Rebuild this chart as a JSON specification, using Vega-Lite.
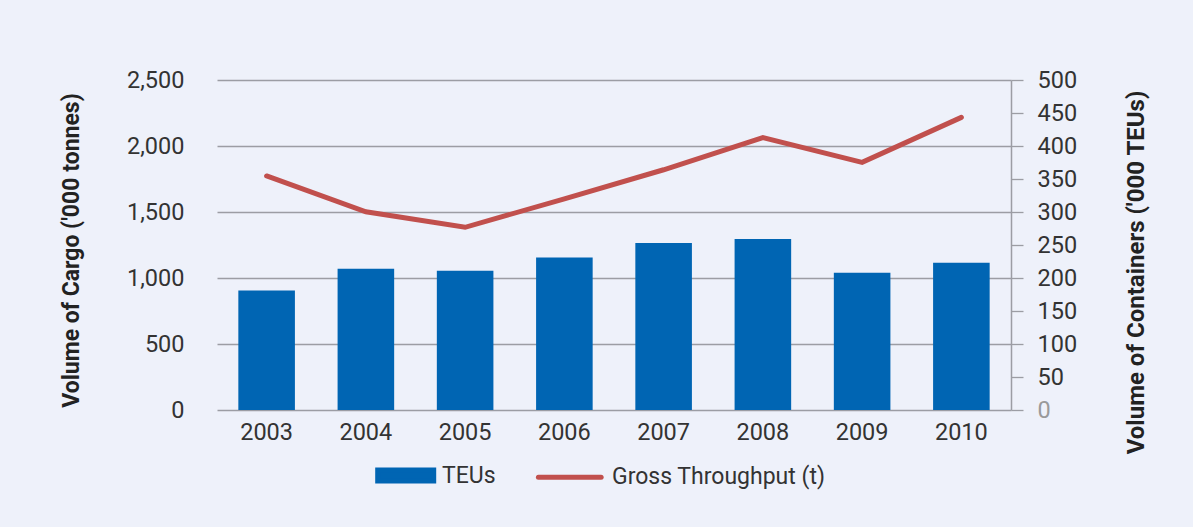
{
  "$schema": "https://vega.github.io/schema/vega-lite/v6.json",
  "width": 794,
  "height": 330,
  "autosize": {"type": "none"},
  "padding": {"left": 217, "top": 80, "right": 182, "bottom": 117},
  "background": "#eef1fa",
  "config": {
    "view": {"stroke": null},
    "font": "Roboto",
    "axis": {"labelFont": "Roboto", "titleFont": "Roboto", "labelFontWeight": 400},
    "legend": {"labelFont": "Roboto", "labelFontWeight": 400}
  },
  "data": {
    "values": [
      {"year": "2003", "teu": 181, "gross": 1773},
      {"year": "2004", "teu": 214, "gross": 1502},
      {"year": "2005", "teu": 211, "gross": 1384},
      {"year": "2006", "teu": 231, "gross": 1600},
      {"year": "2007", "teu": 253, "gross": 1820},
      {"year": "2008", "teu": 259, "gross": 2063},
      {"year": "2009", "teu": 208, "gross": 1876},
      {"year": "2010", "teu": 223, "gross": 2217}
    ]
  },
  "layer": [
    {
      "mark": {"type": "bar", "color": "#0065b3"},
      "encoding": {
        "x": {
          "field": "year",
          "type": "ordinal",
          "scale": {"paddingInner": 0.43, "paddingOuter": 0.215},
          "axis": {"title": null, "domain": false, "ticks": false, "labelAngle": 0, "labelPadding": 10, "labelFontSize": 23.5, "labelColor": "#333333"}
        },
        "y": {
          "field": "teu",
          "type": "quantitative",
          "scale": {"domain": [0, 500], "nice": false},
          "axis": {
            "orient": "right",
            "title": "Volume of Containers ('000 TEUs)",
            "values": [0, 50, 100, 150, 200, 250, 300, 350, 400, 450, 500],
            "format": "d",
            "domain": true,
            "domainColor": "#9c9da4",
            "domainWidth": 1.5,
            "ticks": true,
            "tickSize": 12,
            "tickColor": "#9c9da4",
            "tickWidth": 1.3,
            "grid": false,
            "labelPadding": 14,
            "labelFontSize": 23.5,
            "labelColor": {"condition": {"test": "datum.value === 0", "value": "#9a9a9a"}, "value": "#333333"},
            "titleAngle": 270,
            "titleX": 125,
            "titleY": 192,
            "titleBaseline": "middle",
            "titleFontSize": 24,
            "titleFontWeight": "bold",
            "titleColor": "#222222"
          }
        },
        "color": {
          "datum": "TEUs",
          "type": "nominal",
          "scale": {"domain": ["TEUs", "Gross Throughput (t)"], "range": ["#0065b3", "#c1504d"]},
          "legend": {
            "orient": "none",
            "legendX": 155,
            "legendY": 361,
            "padding": 0,
            "direction": "horizontal",
            "title": null,
            "labelFontSize": 23,
            "labelColor": "#333333",
            "labelLimit": 400,
            "symbolSize": 4096,
            "symbolStrokeWidth": 5,
            "columnPadding": 32,
            "labelOffset": 1,
            "encode": {
              "symbols": {
                "update": {
                  "shape": {"signal": "datum.value === 'TEUs' ? 'M-0.9,-0.17H0.85V0.17H-0.9Z' : 'M-1.19,0H0.77'"},
                  "size": {"value": 4096},
                  "fill": {"signal": "datum.value === 'TEUs' ? '#0065b3' : 'transparent'"},
                  "stroke": {"signal": "datum.value === 'TEUs' ? 'transparent' : '#c1504d'"},
                  "strokeWidth": {"value": 5},
                  "strokeCap": {"value": "round"},
                  "opacity": {"value": 1}
                }
              }
            }
          }
        }
      }
    },
    {
      "mark": {"type": "line", "strokeWidth": 5, "strokeCap": "round"},
      "encoding": {
        "x": {"field": "year", "type": "ordinal"},
        "y": {
          "field": "gross",
          "type": "quantitative",
          "scale": {"domain": [0, 2500], "nice": false},
          "axis": {
            "orient": "left",
            "title": "Volume of Cargo ('000 tonnes)",
            "values": [0, 500, 1000, 1500, 2000, 2500],
            "format": ",d",
            "domain": false,
            "ticks": false,
            "grid": true,
            "gridColor": "#9c9da4",
            "gridWidth": 1.3,
            "labelPadding": 33,
            "labelFontSize": 23.5,
            "labelColor": "#333333",
            "titleAngle": 270,
            "titleX": -146,
            "titleY": 170,
            "titleBaseline": "middle",
            "titleFontSize": 23,
            "titleFontWeight": "bold",
            "titleColor": "#222222"
          }
        },
        "color": {"datum": "Gross Throughput (t)", "type": "nominal"}
      }
    }
  ],
  "resolve": {"scale": {"y": "independent"}}
}
